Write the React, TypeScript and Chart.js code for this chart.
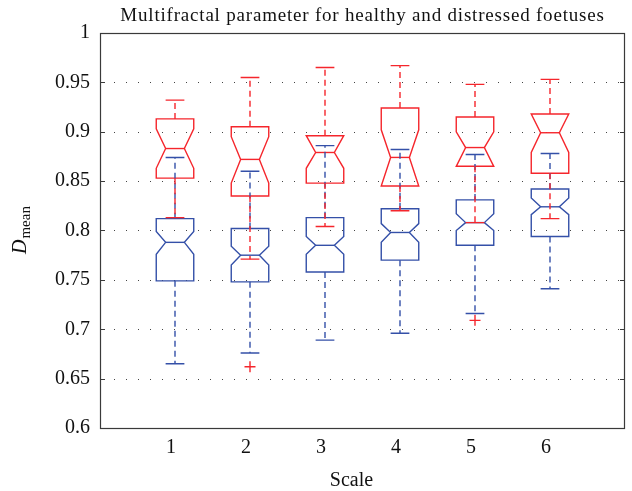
import React, { useEffect, useRef } from 'react';
import { Chart, registerables } from 'chart.js';

Chart.register(...registerables);

// ---- data ----
const scaleValues = [1, 2, 3, 4, 5, 6];
const scaleLabels = ['1', '2', '3', '4', '5', '6'];
const yTickValues = [0.6, 0.65, 0.7, 0.75, 0.8, 0.85, 0.9, 0.95, 1];
const yTickLabels = ['0.6', '0.65', '0.7', '0.75', '0.8', '0.85', '0.9', '0.95', '1'];

// healthy foetuses (blue)
const healthyWhiskerLow = [0.665, 0.676, 0.689, 0.696, 0.716, 0.741];
const healthyQ1 = [0.749, 0.748, 0.758, 0.770, 0.785, 0.794];
const healthyNotchLow = [0.776, 0.765, 0.776, 0.788, 0.800, 0.816];
const healthyMedian = [0.788, 0.775, 0.785, 0.798, 0.808, 0.824];
const healthyNotchHigh = [0.799, 0.784, 0.794, 0.807, 0.817, 0.833];
const healthyQ3 = [0.812, 0.802, 0.813, 0.822, 0.831, 0.842];
const healthyWhiskerHigh = [0.874, 0.860, 0.886, 0.882, 0.877, 0.878];

// distressed foetuses (red)
const distressedWhiskerLow = [0.813, 0.771, 0.804, 0.820, 0.808, 0.812];
const distressedQ1 = [0.853, 0.835, 0.848, 0.845, 0.865, 0.858];
const distressedNotchLow = [0.863, 0.848, 0.863, 0.845, 0.865, 0.879];
const distressedMedian = [0.883, 0.872, 0.879, 0.874, 0.884, 0.899];
const distressedNotchHigh = [0.903, 0.895, 0.896, 0.902, 0.900, 0.918];
const distressedQ3 = [0.913, 0.905, 0.896, 0.924, 0.915, 0.918];
const distressedWhiskerHigh = [0.932, 0.955, 0.965, 0.967, 0.948, 0.953];
const distressedOutlierScale = [2, 5];
const distressedOutlierValue = [0.662, 0.709];

const titleText = 'Multifractal parameter for healthy and distressed foetuses';
const xTitleText = 'Scale';
const yTitleMain = 'D';
const yTitleSub = 'mean';

const RED = 'rgb(245,38,44)';
const BLUE = 'rgb(52,80,168)';
const FONT = '"Liberation Serif", "Times New Roman", serif';

const BOX_HALF = 0.25;
const NOTCH_HALF = 0.125;
const CAP_HALF = 0.125;

type Group = {
  color: string;
  wLo: number[]; q1: number[]; nLo: number[]; med: number[]; nHi: number[]; q3: number[]; wHi: number[];
};

const groups: Group[] = [
  { color: BLUE, wLo: healthyWhiskerLow, q1: healthyQ1, nLo: healthyNotchLow, med: healthyMedian, nHi: healthyNotchHigh, q3: healthyQ3, wHi: healthyWhiskerHigh },
  { color: RED, wLo: distressedWhiskerLow, q1: distressedQ1, nLo: distressedNotchLow, med: distressedMedian, nHi: distressedNotchHigh, q3: distressedQ3, wHi: distressedWhiskerHigh },
];

const boxPlugin = {
  id: 'notchedBoxes',
  beforeDatasetsDraw(chart: any) {
    const { ctx, chartArea: a, scales } = chart;
    const y = scales.y;
    ctx.save();
    ctx.strokeStyle = '#444';
    ctx.lineWidth = 1;
    ctx.setLineDash([1, 11]);
    yTickValues.forEach((v) => {
      if (v <= yTickValues[0] || v >= yTickValues[yTickValues.length - 1]) return;
      const py = Math.round(y.getPixelForValue(v)) + 0.5;
      ctx.beginPath();
      ctx.moveTo(a.left + 2, py);
      ctx.lineTo(a.right - 2, py);
      ctx.stroke();
    });
    ctx.restore();
  },
  afterDatasetsDraw(chart: any) {
    const { ctx, chartArea: a, scales } = chart;
    const x = scales.x;
    const y = scales.y;
    ctx.save();
    ctx.lineWidth = 1.4;
    ctx.lineJoin = 'miter';
    // boxes + medians
    groups.forEach((g) => {
      ctx.strokeStyle = g.color;
      ctx.setLineDash([]);
      scaleValues.forEach((c, i) => {
        const xl = x.getPixelForValue(c - BOX_HALF);
        const xr = x.getPixelForValue(c + BOX_HALF);
        const xnl = x.getPixelForValue(c - NOTCH_HALF);
        const xnr = x.getPixelForValue(c + NOTCH_HALF);
        const q1 = y.getPixelForValue(g.q1[i]);
        const q3 = y.getPixelForValue(g.q3[i]);
        const nLo = y.getPixelForValue(g.nLo[i]);
        const nHi = y.getPixelForValue(g.nHi[i]);
        const med = y.getPixelForValue(g.med[i]);
        ctx.beginPath();
        ctx.moveTo(xl, q1);
        ctx.lineTo(xl, nLo);
        ctx.lineTo(xnl, med);
        ctx.lineTo(xl, nHi);
        ctx.lineTo(xl, q3);
        ctx.lineTo(xr, q3);
        ctx.lineTo(xr, nHi);
        ctx.lineTo(xnr, med);
        ctx.lineTo(xr, nLo);
        ctx.lineTo(xr, q1);
        ctx.closePath();
        ctx.stroke();
        ctx.beginPath();
        ctx.moveTo(xnl, med);
        ctx.lineTo(xnr, med);
        ctx.stroke();
      });
    });
    // whiskers + caps
    groups.forEach((g) => {
      ctx.strokeStyle = g.color;
      scaleValues.forEach((c, i) => {
        const xc = x.getPixelForValue(c);
        const xcl = x.getPixelForValue(c - CAP_HALF);
        const xcr = x.getPixelForValue(c + CAP_HALF);
        const q1 = y.getPixelForValue(g.q1[i]);
        const q3 = y.getPixelForValue(g.q3[i]);
        const wLo = y.getPixelForValue(g.wLo[i]);
        const wHi = y.getPixelForValue(g.wHi[i]);
        ctx.setLineDash([6, 4]);
        ctx.beginPath();
        ctx.moveTo(xc, q3);
        ctx.lineTo(xc, wHi);
        ctx.moveTo(xc, q1);
        ctx.lineTo(xc, wLo);
        ctx.stroke();
        ctx.setLineDash([]);
        ctx.beginPath();
        ctx.moveTo(xcl, wHi);
        ctx.lineTo(xcr, wHi);
        ctx.moveTo(xcl, wLo);
        ctx.lineTo(xcr, wLo);
        ctx.stroke();
      });
    });
    // frame
    ctx.setLineDash([]);
    ctx.strokeStyle = '#3a3a3a';
    ctx.lineWidth = 1.2;
    ctx.strokeRect(Math.round(a.left) + 0.5, Math.round(a.top) + 0.5, Math.round(a.width) - 1, Math.round(a.height));
    // inner tick marks on left and right
    ctx.lineWidth = 1;
    yTickValues.forEach((v) => {
      const py = Math.round(y.getPixelForValue(v)) + 0.5;
      ctx.beginPath();
      ctx.moveTo(a.left, py);
      ctx.lineTo(a.left + 5, py);
      ctx.moveTo(a.right, py);
      ctx.lineTo(a.right - 5, py);
      ctx.stroke();
    });
    // titles
    ctx.fillStyle = '#111';
    ctx.textAlign = 'center';
    ctx.textBaseline = 'alphabetic';
    ctx.font = `19px ${FONT}`;
    try { (ctx as any).letterSpacing = '0.8px'; } catch (e) { /* ignore */ }
    ctx.fillText(titleText, (a.left + a.right) / 2, 21);
    try { (ctx as any).letterSpacing = '0px'; } catch (e) { /* ignore */ }
    ctx.font = `20px ${FONT}`;
    ctx.fillText(xTitleText, (a.left + a.right) / 2 - 11, 486);
    // y title: italic D with subscript "mean"
    ctx.save();
    ctx.translate(26, 254);
    ctx.rotate(-Math.PI / 2);
    ctx.textAlign = 'left';
    ctx.font = `italic 20px ${FONT}`;
    ctx.fillText(yTitleMain, 0, 0);
    const wD = ctx.measureText(yTitleMain).width;
    ctx.font = `15px ${FONT}`;
    ctx.fillText(yTitleSub, wD + 1, 4);
    ctx.restore();
    ctx.restore();
  },
};

export default function App() {
  const canvasRef = useRef<HTMLCanvasElement | null>(null);

  useEffect(() => {
    document.body.style.margin = '0';
    const canvas = canvasRef.current;
    if (!canvas) return;
    const chart = new Chart(canvas, {
      type: 'scatter',
      data: {
        datasets: [
          {
            label: 'Distressed outliers',
            data: distressedOutlierScale.map((s, i) => ({ x: s, y: distressedOutlierValue[i] })),
            pointStyle: 'cross',
            pointRadius: 5.5,
            pointHoverRadius: 5.5,
            borderColor: RED,
            backgroundColor: RED,
            borderWidth: 1.4,
          },
        ],
      },
      options: {
        animation: false,
        responsive: false,
        devicePixelRatio: 1,
        layout: { padding: { top: 33, right: 7, left: 0, bottom: 0 } },
        plugins: {
          legend: { display: false },
          tooltip: { enabled: false },
          title: { display: false },
        },
        scales: {
          x: {
            type: 'linear',
            min: 0,
            max: 7,
            afterBuildTicks: (s: any) => {
              s.ticks = scaleValues.map((v) => ({ value: v }));
            },
            afterFit: (s: any) => {
              s.height = 63;
            },
            ticks: {
              callback: (v: any) => {
                const idx = scaleValues.indexOf(Number(v));
                return idx >= 0 ? scaleLabels[idx] : '';
              },
              font: { family: FONT, size: 20 },
              color: '#111',
              padding: 8,
              labelOffset: -4,
              maxRotation: 0,
              autoSkip: false,
            },
            grid: { display: false, drawTicks: false },
            border: { display: false },
          },
          y: {
            type: 'linear',
            min: 0.6,
            max: 1,
            afterBuildTicks: (s: any) => {
              s.ticks = yTickValues.map((v) => ({ value: v }));
            },
            afterFit: (s: any) => {
              s.width = 100;
            },
            ticks: {
              callback: (v: any) => {
                const idx = yTickValues.findIndex((t) => Math.abs(t - Number(v)) < 1e-9);
                return idx >= 0 ? yTickLabels[idx] : '';
              },
              font: { family: FONT, size: 20 },
              color: '#111',
              padding: 10,
              autoSkip: false,
            },
            grid: { display: false, drawTicks: false },
            border: { display: false },
          },
        },
      },
      plugins: [boxPlugin],
    });
    return () => chart.destroy();
  }, []);

  return (
    <div style={{ width: 632, height: 491 }}>
      <canvas ref={canvasRef} width={632} height={491} />
    </div>
  );
}
